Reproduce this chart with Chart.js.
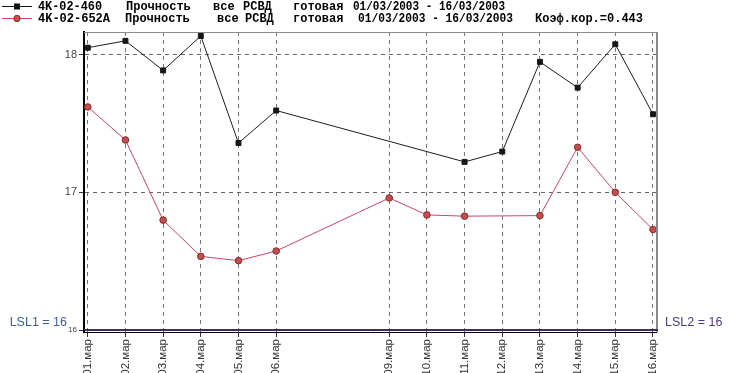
<!DOCTYPE html>
<html>
<head>
<meta charset="utf-8">
<script src="https://cdn.jsdelivr.net/npm/chart.js@4.4.1/dist/chart.umd.min.js"></script>
<style>
  html, body { margin: 0; padding: 0; background: #fff; }
  #wrap { width: 730px; height: 373px; }
</style>
</head>
<body>
<div id="wrap"><canvas id="chart" width="730" height="373"></canvas></div>
<script>
// days of March 2003 with measurements
const days = [1, 2, 3, 4, 5, 6, 9, 10, 11, 12, 13, 14, 15, 16];
const dayLabels = ["01.мар", "02.мар", "03.мар", "04.мар", "05.мар", "06.мар",
  "09.мар", "10.мар", "11.мар", "12.мар", "13.мар", "14.мар", "15.мар", "16.мар"];

// 4K-02-460
const series460 = [18.05, 18.10, 17.885, 18.135, 17.358, 17.594, null, null,
  17.221, 17.296, 17.947, 17.76, 18.075, 17.567];
// 4K-02-652A
const series652 = [17.62, 17.38, 16.798, 16.535, 16.504, 16.574, 16.959, 16.836,
  16.827, null, 16.831, 17.327, 17.0, 16.73];

const yTicks = [16, 17, 18];
const lsl1 = 16;
const lsl2 = 16;

const toPoints = (vals) => days
  .map((d, i) => ({ x: d, y: vals[i] }))
  .filter(p => p.y !== null);

const headerPlugin = {
  id: "header",
  afterDraw(chart) {
    const ctx = chart.ctx;
    const { left, right } = chart.chartArea;
    const y16 = chart.scales.y.getPixelForValue(lsl1);
    ctx.save();

    // frame top / right
    ctx.strokeStyle = "#8a8a8a";
    ctx.lineWidth = 1;
    ctx.beginPath();
    ctx.moveTo(left, chart.chartArea.top + 0.5);
    ctx.lineTo(right, chart.chartArea.top + 0.5);
    ctx.stroke();
    ctx.lineWidth = 2;
    ctx.beginPath();
    ctx.moveTo(right + 1, chart.chartArea.top);
    ctx.lineTo(right + 1, chart.chartArea.bottom);
    ctx.stroke();

    // LSL line
    ctx.strokeStyle = "#3d2b63";
    ctx.lineWidth = 2;
    ctx.beginPath();
    ctx.moveTo(left, y16);
    ctx.lineTo(right + 2, y16);
    ctx.stroke();

    ctx.font = "12.5px 'Liberation Sans', Arial, sans-serif";
    ctx.textBaseline = "middle";
    ctx.fillStyle = "#3b5ea0";
    ctx.textAlign = "right";
    ctx.fillText("LSL1 = " + lsl1, 67, y16 - 8);
    ctx.fillStyle = "#4b3a8a";
    ctx.textAlign = "left";
    ctx.fillText("LSL2 = " + lsl2, 665, y16 - 8);

    // legend header
    ctx.lineWidth = 1;
    ctx.strokeStyle = "#111";
    ctx.beginPath(); ctx.moveTo(2, 6.5); ctx.lineTo(32, 6.5); ctx.stroke();
    ctx.fillStyle = "#111";
    ctx.fillRect(14, 3.5, 6, 6);
    ctx.strokeStyle = "#d2426a";
    ctx.beginPath(); ctx.moveTo(2, 18.5); ctx.lineTo(32, 18.5); ctx.stroke();
    ctx.fillStyle = "#c0504d";
    ctx.strokeStyle = "#8a2a2a";
    ctx.beginPath(); ctx.arc(17, 18.5, 3.2, 0, Math.PI * 2); ctx.fill(); ctx.stroke();

    ctx.font = "bold 12px 'Liberation Mono', 'DejaVu Sans Mono', monospace";
    ctx.textBaseline = "alphabetic";
    ctx.textAlign = "left";
    ctx.fillStyle = "#000";
    const line1 = [["4K-02-460", 38, 64], ["Прочность", 126, 65], ["все", 213, 25],
      ["РСВД", 243, 34], ["готовая", 293, 54], ["01/03/2003 - 16/03/2003", 353, 152]];
    const line2 = [["4K-02-652A", 38, 72], ["Прочность", 125, 65], ["все", 217, 22],
      ["РСВД", 245, 33], ["готовая", 293, 55], ["01/03/2003 - 16/03/2003", 358, 155],
      ["Коэф.кор.=0.443", 535, 110]];
    line1.forEach(([t, x, w]) => ctx.fillText(t, x, 10, w));
    line2.forEach(([t, x, w]) => ctx.fillText(t, x, 22, w));
    ctx.restore();
  }
};

new Chart(document.getElementById("chart").getContext("2d"), {
  type: "line",
  data: {
    datasets: [{
      label: "4K-02-460",
      data: toPoints(series460),
      borderColor: "#1e1e1e",
      borderWidth: 1,
      pointStyle: "rect",
      pointRadius: 3.5,
      pointBackgroundColor: "#161616",
      pointBorderColor: "#161616",
      pointBorderWidth: 1,
      tension: 0
    }, {
      label: "4K-02-652A",
      data: toPoints(series652),
      borderColor: "#d2426a",
      borderWidth: 1,
      pointStyle: "circle",
      pointRadius: 3.3,
      pointBackgroundColor: "#c0504d",
      pointBorderColor: "#8a2a2a",
      pointBorderWidth: 1,
      tension: 0
    }]
  },
  options: {
    responsive: false,
    animation: false,
    layout: { padding: { left: 0, right: 74, top: 32, bottom: 0 } },
    plugins: {
      legend: { display: false },
      tooltip: { enabled: false }
    },
    scales: {
      x: {
        type: "linear",
        min: 0.9,
        max: 16.08,
        afterBuildTicks: (scale) => { scale.ticks = days.map(v => ({ value: v })); },
        afterFit: (scale) => { scale.height = 41; },
        border: { color: "#000", width: 1, dash: [4, 4] },
        grid: {
          color: "#777",
          tickColor: "#333",
          tickLength: 5,
          tickBorderDash: []
        },
        ticks: {
          autoSkip: false,
          minRotation: 90,
          maxRotation: 90,
          padding: 2,
          color: "#333",
          font: { family: "'Liberation Sans', Arial, sans-serif", size: 11.5 },
          callback: (v) => dayLabels[days.indexOf(v)]
        }
      },
      y: {
        min: 15.986,
        max: 18.164,
        afterBuildTicks: (scale) => { scale.ticks = yTicks.map(v => ({ value: v })); },
        afterFit: (scale) => { scale.width = 84; },
        border: { color: "#000", width: 2, dash: [4, 4] },
        grid: {
          color: (c) => c.tick && c.tick.value === 16 ? "rgba(0,0,0,0)" : "#666",
          tickColor: "#333",
          tickLength: 5,
          tickBorderDash: []
        },
        ticks: {
          padding: 2,
          color: "#444",
          font: (c) => ({
            family: "'Liberation Sans', Arial, sans-serif",
            size: c.tick && c.tick.value === 16 ? 8 : 11
          })
        }
      }
    }
  },
  plugins: [headerPlugin]
});
</script>
</body>
</html>
